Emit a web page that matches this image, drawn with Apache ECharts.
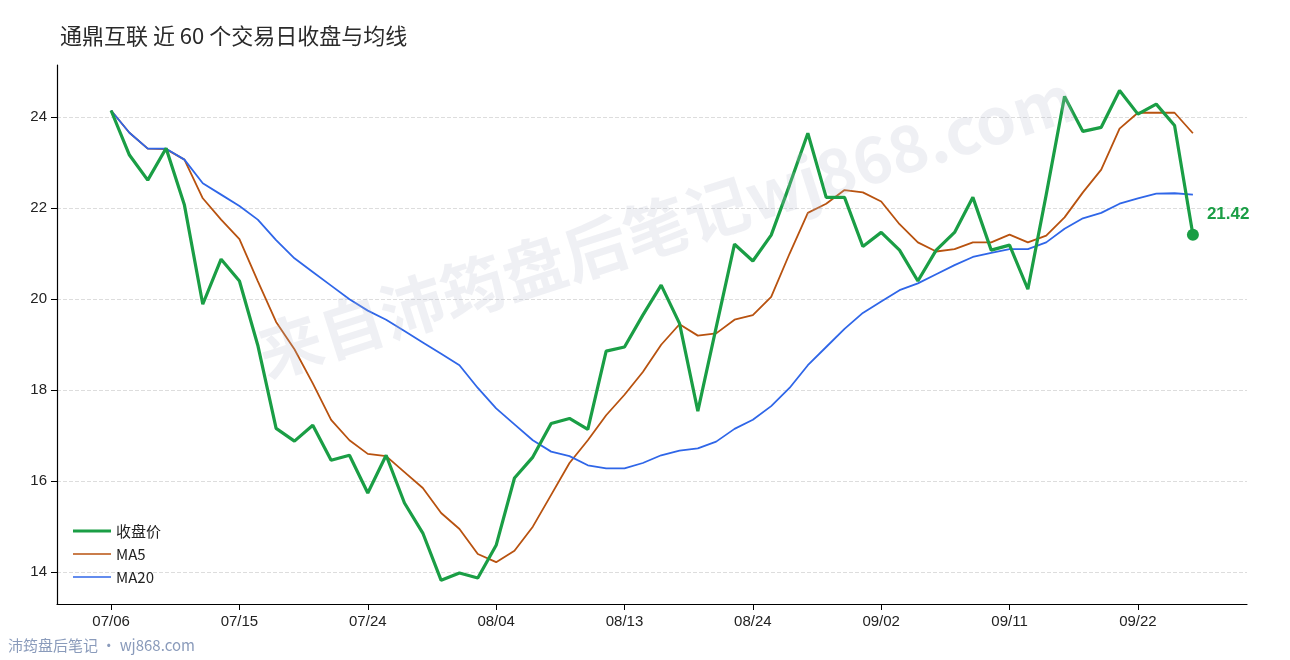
<!DOCTYPE html>
<html><head><meta charset="utf-8">
<script src="https://cdn.jsdelivr.net/npm/echarts@6/dist/echarts.min.js"></script>
<style>html,body{margin:0;padding:0;background:#fff}#c{width:1290px;height:660px}</style>
</head><body><div id="c"></div>
<script>
const dates = ["07/06","07/07","07/08","07/09","07/10","07/13","07/14","07/15","07/16","07/17","07/20","07/21","07/22","07/23","07/24","07/27","07/28","07/29","07/30","07/31","08/03","08/04","08/05","08/06","08/07","08/10","08/11","08/12","08/13","08/14","08/17","08/18","08/19","08/20","08/21","08/24","08/25","08/26","08/27","08/28","08/31","09/01","09/02","09/03","09/04","09/07","09/08","09/09","09/10","09/11","09/14","09/15","09/16","09/17","09/18","09/21","09/22","09/23","09/24","09/25"];
const close = [24.15,23.17,22.62,23.32,22.07,19.89,20.88,20.40,18.99,17.16,16.88,17.23,16.46,16.57,15.74,16.57,15.52,14.86,13.82,13.98,13.87,14.59,16.07,16.53,17.27,17.38,17.14,18.86,18.95,19.65,20.31,19.47,17.54,19.38,21.21,20.84,21.41,22.51,23.65,22.24,22.24,21.16,21.47,21.08,20.40,21.08,21.47,22.24,21.08,21.19,20.22,22.30,24.46,23.69,23.78,24.59,24.07,24.29,23.82,21.42];
const ma5 = [24.15,23.66,23.31,23.30,23.07,22.22,21.75,21.32,20.40,19.50,18.90,18.15,17.35,16.90,16.60,16.55,16.20,15.85,15.30,14.95,14.40,14.22,14.47,15.00,15.70,16.40,16.90,17.45,17.90,18.40,19.00,19.45,19.20,19.25,19.55,19.65,20.05,21.00,21.90,22.10,22.40,22.35,22.15,21.65,21.25,21.05,21.10,21.25,21.25,21.42,21.25,21.40,21.80,22.35,22.85,23.75,24.10,24.10,24.10,23.65];
const ma20 = [24.15,23.66,23.31,23.31,23.07,22.55,22.30,22.05,21.75,21.30,20.90,20.60,20.30,20.00,19.75,19.55,19.30,19.05,18.80,18.55,18.05,17.60,17.25,16.90,16.65,16.55,16.35,16.28,16.28,16.40,16.57,16.67,16.72,16.87,17.15,17.35,17.65,18.05,18.55,18.95,19.35,19.70,19.95,20.20,20.35,20.55,20.75,20.93,21.02,21.10,21.10,21.25,21.55,21.78,21.90,22.10,22.22,22.32,22.33,22.30];
const yTicks = [14,16,18,20,22,24];
const xTicks = [0,7,14,21,28,35,42,49,56];
const pairs = a => a.map((v,i)=>[i,v]);
const chart = echarts.init(document.getElementById('c'));
const last = close.length-1;
const lineIcon = 'path://M0,0 L40,0 L40,3 L0,3 Z';
chart.setOption({
  animation:false,
  title:{text:'通鼎互联 近 60 个交易日收盘与均线',left:55,top:20,textStyle:{fontSize:22,fontWeight:'normal',color:'#2a2a2a',fontFamily:'Noto Sans CJK SC'}},
  graphic:[
    {type:'text',x:250,y:325,rotation:0.31,style:{text:'来自沛筠盘后笔记wj868.com',fontSize:64,fontWeight:'bold',fill:'rgba(180,185,205,0.22)',fontFamily:'Noto Sans CJK SC'},z:100},
    {type:'text',left:8,top:638,style:{text:'沛筠盘后笔记 · wj868.com',fontSize:15,fill:'#8a9bbb',fontFamily:'Noto Sans CJK SC'}}
  ],
  legend:{orient:'vertical',left:68,top:516,itemWidth:38,itemHeight:4,itemGap:3,textStyle:{fontSize:15,lineHeight:20,color:'#222',fontFamily:'Noto Sans CJK SC'},
    data:[{name:'收盘价',icon:lineIcon},{name:'MA5',icon:'path://M0,0 L40,0 L40,1.8 L0,1.8 Z'},{name:'MA20',icon:'path://M0,0 L40,0 L40,1.8 L0,1.8 Z'}]},
  grid:{left:57,right:43,top:65,bottom:56},
  xAxis:{type:'value',min:-2.95,max:61.95,
    axisLine:{onZero:false,lineStyle:{color:'#000',width:1.2}},
    axisTick:{customValues:xTicks,length:6,lineStyle:{color:'#000'}},
    axisLabel:{customValues:xTicks,formatter:v=>dates[Math.round(v)],fontSize:15,color:'#222',margin:10},
    splitLine:{show:false}},
  yAxis:{type:'value',min:13.3,max:25.15,
    axisLine:{show:true,onZero:false,lineStyle:{color:'#000',width:1.2}},
    axisTick:{show:true,customValues:yTicks,length:6,lineStyle:{color:'#000'}},
    axisLabel:{customValues:yTicks,fontSize:15,color:'#222',margin:10},
    splitLine:{show:true,lineStyle:{color:'#ddd',type:'dashed'}}},
  series:[
    {name:'收盘价',type:'line',data:pairs(close),symbol:'none',lineStyle:{width:3.2,color:'#1a9e45'},itemStyle:{color:'#1a9e45'},z:5,
     markPoint:{symbol:'circle',symbolSize:12,itemStyle:{color:'#1a9e45'},data:[{coord:[last,close[last]],value:close[last].toFixed(2)}],
       label:{show:true,position:'right',distance:8,offset:[0,-20],color:'#1a9e45',fontSize:17,fontWeight:'bold'}}},
    {name:'MA5',type:'line',data:pairs(ma5),symbol:'none',lineStyle:{width:1.8,color:'#b8520f'},itemStyle:{color:'#b8520f'}},
    {name:'MA20',type:'line',data:pairs(ma20),symbol:'none',lineStyle:{width:1.8,color:'#2f66e8'},itemStyle:{color:'#2f66e8'}}
  ]
});
</script></body></html>
